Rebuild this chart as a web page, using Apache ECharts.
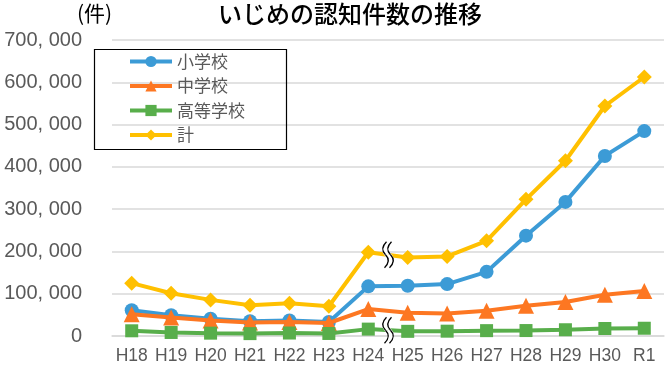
<!DOCTYPE html>
<html>
<head>
<meta charset="utf-8">
<script src="https://cdn.jsdelivr.net/npm/echarts@6/dist/echarts.min.js"></script>
<style>html,body{margin:0;padding:0;background:#fff}#c{width:668px;height:372px}</style>
</head>
<body>
<div id="c"></div>
<script>
const categories = ['H18','H19','H20','H21','H22','H23','H24','H25','H26','H27','H28','H29','H30','R1'];
const elementary = [60897,48896,40807,34766,36909,33124,117384,118748,122734,151692,237256,317121,425844,484545];
const juniorHigh = [51310,43505,36795,32111,33323,30749,63634,55248,52971,59502,71309,80424,97704,106524];
const highSchool = [12307,8355,6737,5642,7018,6020,16274,11039,11404,12664,12874,14789,17709,18352];
const total = [124898,101097,85425,72778,77630,70231,198109,185803,188072,225132,323143,414378,543933,612496];
const seriesNames = ['小学校','中学校','高等学校','計'];
const colors = ['#3c9bd6','#fd7722','#58ae4b','#ffc000'];
const yTicks = [0,100000,200000,300000,400000,500000,600000,700000];
const titleText = 'いじめの認知件数の推移';
const unitText = '(件)';

const numFont = '"Liberation Sans",sans-serif';
const cjkFont = '"Noto Sans CJK JP","Noto Sans",sans-serif';

const chart = echarts.init(document.getElementById('c'));
const symbols = ['circle','triangle','rect','diamond'];
const sizes = [14,16,13,15];
const datas = [elementary, juniorHigh, highSchool, total];

function fmt(v){
  if (v === 0) return '0';
  const s = String(v);
  return s.slice(0, s.length-3) + ', ' + s.slice(s.length-3);
}

chart.setOption({
  animation:false,
  backgroundColor:'#fff',
  title:{text:titleText,left:213,top:-3,textStyle:{fontFamily:cjkFont,fontSize:24,fontWeight:500,color:'#000'}},
  grid:{left:112,right:4,top:40,bottom:36},
  legend:{
    orient:'vertical',left:123,top:48,
    itemWidth:42,itemHeight:14,itemGap:7.5,
    data:seriesNames,
    lineStyle:{width:4},
    textStyle:{fontFamily:cjkFont,fontSize:17,color:'#595959'}
  },
  xAxis:{
    type:'category',data:categories,boundaryGap:true,
    axisLine:{show:true,lineStyle:{color:'#d9d9d9',width:1.5}},
    axisTick:{show:false},
    axisLabel:{fontFamily:numFont,fontSize:17.5,color:'#595959',margin:11,interval:0}
  },
  yAxis:{
    type:'value',min:0,max:700000,interval:100000,
    axisLine:{show:false},axisTick:{show:false},
    splitLine:{lineStyle:{color:'#d9d9d9',width:1.5}},
    axisLabel:{fontFamily:numFont,fontSize:20,color:'#595959',margin:30,formatter:fmt,
      customValues: yTicks}
  },
  series: seriesNames.map((n,i)=>({
    name:n,type:'line',data:datas[i],
    symbol:symbols[i],symbolSize:sizes[i],showSymbol:true,
    lineStyle:{width:4,color:colors[i]},
    itemStyle:{color:colors[i]},
    z:2+i
  }))
});

function squiggle(cx, cy){
  const h = 26, top = cy - h/2;
  const els = [];
  const mk = (dx, color, w) => {
    const x = cx + dx;
    return [
      {type:'bezierCurve',z:50,silent:true,shape:{x1:x+1,y1:top,cpx1:x-4,cpy1:top+5,cpx2:x-4,cpy2:top+9,x2:x,y2:top+h/2},style:{stroke:color,lineWidth:w,fill:null}},
      {type:'bezierCurve',z:50,silent:true,shape:{x1:x,y1:top+h/2,cpx1:x+4,cpy1:top+h/2+4,cpx2:x+4,cpy2:top+h-5,x2:x-1,y2:top+h},style:{stroke:color,lineWidth:w,fill:null}}
    ];
  };
  els.push(...mk(0,'#ffffff',6));
  els.push(...mk(-2.5,'#000000',1.3));
  els.push(...mk(2.5,'#000000',1.3));
  return els;
}

function mid(arr){
  const p1 = chart.convertToPixel({xAxisIndex:0,yAxisIndex:0},[6,arr[6]]);
  const p2 = chart.convertToPixel({xAxisIndex:0,yAxisIndex:0},[7,arr[7]]);
  return [(p1[0]+p2[0])/2,(p1[1]+p2[1])/2];
}
const m1 = mid(total), m2 = mid(highSchool);
chart.setOption({
  graphic:[
    {type:'rect',left:92,top:47,z:40,silent:true,shape:{width:192,height:100},style:{fill:null,stroke:'#000',lineWidth:1.2}},
    {type:'text',left:77,top:3,z:40,style:{text:unitText,fontFamily:cjkFont,fontSize:21,fill:'#000'}},
    ...squiggle(m1[0],m1[1]),
    ...squiggle(m2[0],m2[1])
  ]
});
</script>
</body>
</html>
